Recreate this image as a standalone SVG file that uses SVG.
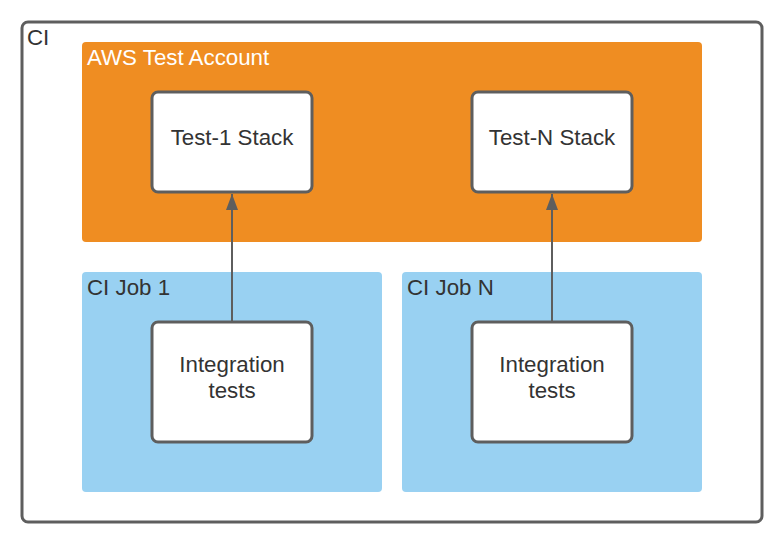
<svg xmlns="http://www.w3.org/2000/svg" width="783" height="543" viewBox="0 0 783 543">
<defs>
<style>
.t{font-family:"Liberation Sans",Arial,sans-serif;font-size:22.3px;fill:#333333}
.w{fill:#ffffff}
.node{fill:#ffffff;stroke:#5e5e5e;stroke-width:3}
.line{stroke:#5e5e5e;stroke-width:2;fill:none}
</style>
<marker id="ah" markerWidth="16" markerHeight="12" refX="16" refY="6" orient="auto" markerUnits="userSpaceOnUse" viewBox="0 0 16 12">
<path d="M16 6 L0 12 L0 0 Z" fill="#5e5e5e"/>
</marker>
</defs>
<rect width="783" height="543" fill="#ffffff"/>
<g id="ci">
<rect x="22" y="22" width="740" height="500" rx="6" fill="#ffffff" stroke="#5e5e5e" stroke-width="3"/>
<text class="t" x="27" y="45">CI</text>
</g>
<g id="aws">
<rect x="82" y="42" width="620" height="200" rx="4" fill="#ef8d22"/>
<text class="t w" x="87" y="65">AWS Test Account</text>
</g>
<g id="job1">
<rect x="82" y="272" width="300" height="220" rx="4" fill="#99d1f2"/>
<text class="t" x="87" y="295">CI Job 1</text>
</g>
<g id="jobN">
<rect x="402" y="272" width="300" height="220" rx="4" fill="#99d1f2"/>
<text class="t" x="407" y="295">CI Job N</text>
</g>
<g id="stack1">
<rect class="node" x="152" y="92" width="160" height="100" rx="6"/>
<text class="t" x="232" y="145" text-anchor="middle">Test-1 Stack</text>
</g>
<g id="stackN">
<rect class="node" x="472" y="92" width="160" height="100" rx="6"/>
<text class="t" x="552" y="145" text-anchor="middle">Test-N Stack</text>
</g>
<g id="tests1">
<rect class="node" x="152" y="322" width="160" height="120" rx="6"/>
<text class="t" x="232" y="372" text-anchor="middle">Integration</text>
<text class="t" x="232" y="398" text-anchor="middle">tests</text>
</g>
<g id="testsN">
<rect class="node" x="472" y="322" width="160" height="120" rx="6"/>
<text class="t" x="552" y="372" text-anchor="middle">Integration</text>
<text class="t" x="552" y="398" text-anchor="middle">tests</text>
</g>
<g id="connectors">
<path class="line" d="M232 321 L232 194" marker-end="url(#ah)"/>
<path class="line" d="M552 321 L552 194" marker-end="url(#ah)"/>
</g>
</svg>
